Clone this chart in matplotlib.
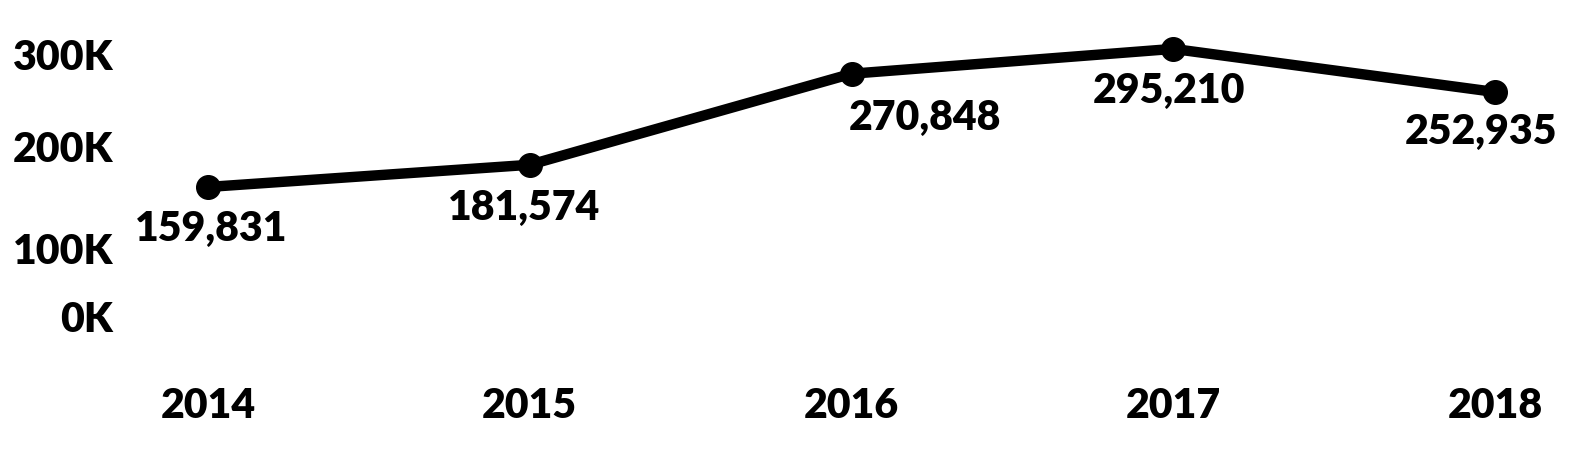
import matplotlib
matplotlib.use('Agg')
import matplotlib.pyplot as plt
import matplotlib.transforms as mtransforms

years = ['2014', '2015', '2016', '2017', '2018']
counts = [159831, 181574, 270848, 295210, 252935]
y_ticks = [0, 100000, 200000, 300000]
y_tick_labels = ['0K', '100K', '200K', '300K']

# label nudges in pixels (dx, dy) like the original hand-placed labels
label_offsets = [(3, -42), (-6, -43), (73, -44), (-4, -42), (-14, -40)]

plt.rcParams['font.family'] = ['Lato', 'DejaVu Sans']
FS = 29.5
FW = 'heavy'

fig = plt.figure(figsize=(15.8, 4.63), dpi=100)
ax = fig.add_axes([130 / 1580, 113 / 463, 1440 / 1580, 306 / 463])

xs = list(range(len(years)))
ax.plot(xs, counts, color='black', lw=7.5, marker='o', markersize=17,
        solid_joinstyle='round', clip_on=False, zorder=3)

for x, v, (dx, dy) in zip(xs, counts, label_offsets):
    ax.annotate(f'{v:,}', (x, v), xytext=(dx, dy), textcoords='offset pixels',
                ha='center', va='center', fontsize=FS, fontweight=FW)

ax.set_xlim(-0.2424, 4.233)
ax.set_ylim(0, 300000)
ax.set_xticks(xs)
ax.set_xticklabels(years, fontsize=FS, fontweight=FW)
ax.set_yticks(y_ticks)
ax.set_yticklabels(y_tick_labels, fontsize=FS, fontweight=FW)
ax.tick_params(length=0)
ax.tick_params(axis='x', pad=27)
ax.tick_params(axis='y', pad=12)
for s in ax.spines.values():
    s.set_visible(False)

# the outer y labels sit nudged inward in the original
shifts = {'0K': 33, '300K': -11}
for lab in ax.get_yticklabels():
    d = shifts.get(lab.get_text(), 0)
    if d:
        lab.set_transform(lab.get_transform() +
                          mtransforms.ScaledTranslation(0, d / 100, fig.dpi_scale_trans))

fig.savefig('out.png', dpi=100)
